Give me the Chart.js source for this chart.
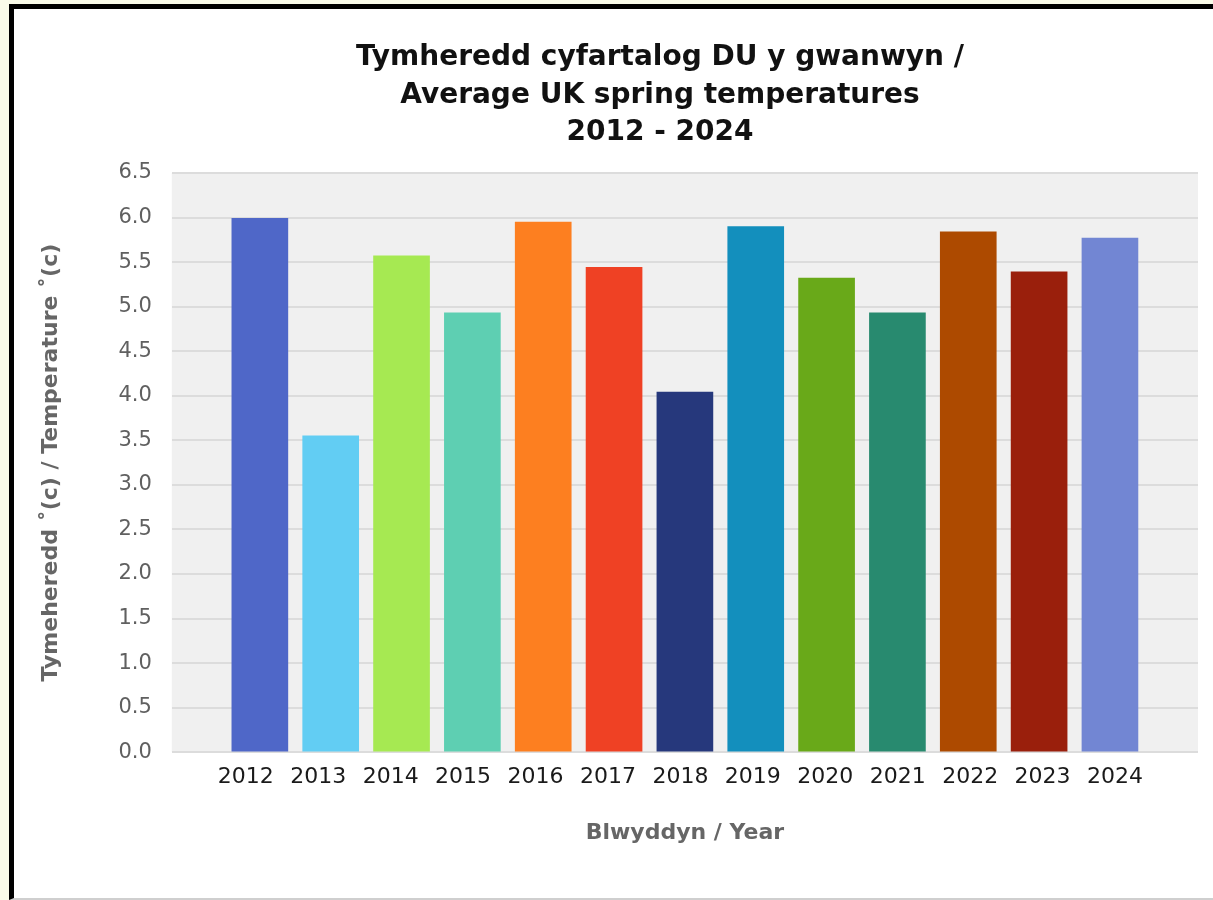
<!DOCTYPE html>
<html>
<head>
<meta charset="utf-8">
<script src="https://cdn.jsdelivr.net/npm/chart.js@4/dist/chart.umd.min.js"></script>
<style>
  html, body { margin: 0; padding: 0; background: #fafbe9; overflow: hidden; }
  #card {
    position: absolute; left: 9px; top: 4px; width: 1199px; height: 889px;
    background: #ffffff; border-left: 5px solid #000; border-top: 5px solid #000;
    border-bottom: 2px solid #cfcfcf;
  }
  #card canvas { display: block; }
</style>
</head>
<body>
<div id="card"><canvas id="tempChart" width="1199" height="889"></canvas></div>
<script>
const years = [2012, 2013, 2014, 2015, 2016, 2017, 2018, 2019, 2020, 2021, 2022, 2023, 2024];
const temps = [5.99, 3.55, 5.57, 4.93, 5.95, 5.44, 4.04, 5.90, 5.32, 4.93, 5.84, 5.39, 5.77];
const barColors = [
    '#4f67c8', '#62cdf3', '#a6e952', '#5ecfb2', '#fd7f20', '#ef4124', '#26387c',
    '#138fbd', '#69a919', '#288a6f', '#ad4a00', '#9a1f0c', '#7286d3'
];
const titleLines = ['Tymheredd cyfartalog DU y gwanwyn /', 'Average UK spring temperatures', '2012 - 2024'];
const yTitle = 'Tymeheredd \u02DA(c) / Temperature \u02DA(c)';
const xTitle = 'Blwyddyn / Year';

const FONT = '"DejaVu Sans", Inter, sans-serif';

// grey plot background behind the bars
const plotBg = {
    id: 'plotBg',
    beforeDraw(chart) {
        const { ctx, chartArea: a } = chart;
        ctx.save();
        ctx.fillStyle = '#f0f0f0';
        ctx.fillRect(a.left, a.top, a.right - a.left, a.bottom - a.top);
        ctx.restore();
    }
};

// three line title, centred a little left of the plot like the original
const titleText = {
    id: 'titleText',
    afterDraw(chart) {
        const ctx = chart.ctx;
        ctx.save();
        ctx.fillStyle = '#111111';
        ctx.font = 'bold 28px ' + FONT;
        ctx.textAlign = 'center';
        ctx.textBaseline = 'middle';
        titleLines.forEach((line, i) => ctx.fillText(line, 646, 49 + i * 37.5));
        ctx.restore();
    }
};

window.tempChart = new Chart(document.getElementById('tempChart').getContext('2d'), {
    type: 'bar',
    data: {
        datasets: [{
            label: 'Temperature',
            data: years.map((y, i) => ({ x: y, y: temps[i] })),
            backgroundColor: barColors,
            borderWidth: 0,
            barThickness: 56
        }]
    },
    options: {
        responsive: false,
        animation: false,
        layout: { padding: { left: 20, right: 15, top: 164, bottom: 48 } },
        plugins: {
            legend: { display: false },
            tooltip: { enabled: false },
            title: { display: false }
        },
        scales: {
            // bars sit on this one
            x: {
                type: 'linear',
                display: false,
                offset: false,
                min: 2010.757,
                max: 2025.243
            },
            // year labels are spread a touch wider than the bars in the original
            xLabels: {
                type: 'linear',
                position: 'bottom',
                offset: false,
                min: 2010.978,
                max: 2025.146,
                afterBuildTicks: axis => { axis.ticks = years.map(v => ({ value: v })); },
                ticks: {
                    color: '#1a1a1a',
                    font: { family: FONT, size: 22 },
                    padding: 4,
                    callback: v => String(v),
                    autoSkip: false,
                    maxRotation: 0
                },
                grid: { display: false, offset: false },
                border: { display: false },
                title: {
                    display: true,
                    text: xTitle,
                    color: '#666666',
                    font: { family: FONT, size: 22, weight: 'bold' },
                    padding: { top: 25 }
                }
            },
            y: {
                min: 0,
                max: 6.5,
                ticks: {
                    stepSize: 0.5,
                    color: '#606060',
                    font: { family: FONT, size: 21 },
                    padding: 20,
                    callback: v => v.toFixed(1)
                },
                grid: { color: '#dcdcdc', lineWidth: 2, drawTicks: false },
                border: { display: false },
                title: {
                    display: true,
                    text: yTitle,
                    color: '#666666',
                    font: { family: FONT, size: 22, weight: 'bold' },
                    padding: { bottom: 34 }
                }
            }
        }
    },
    plugins: [plotBg, titleText]
});
</script>
</body>
</html>
